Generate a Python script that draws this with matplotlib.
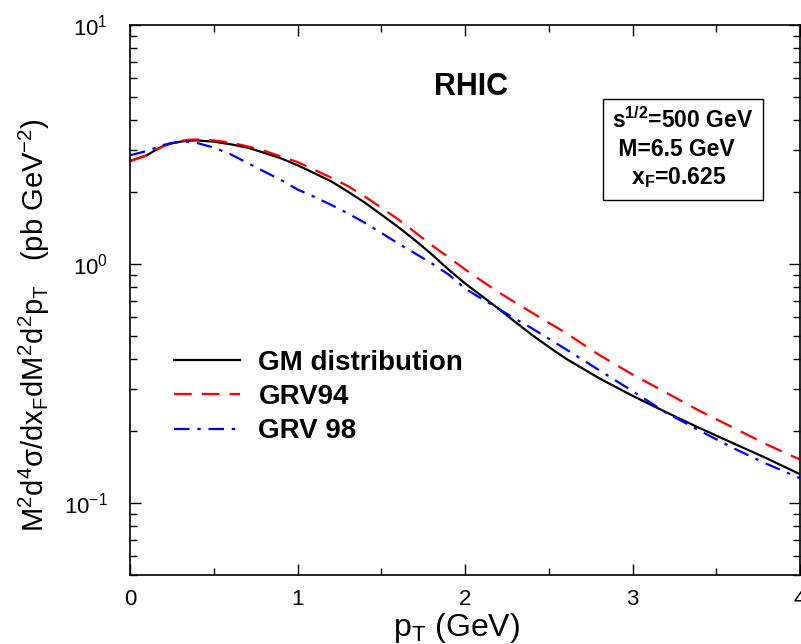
import matplotlib
matplotlib.use("Agg")
import matplotlib.pyplot as plt
import numpy as np
from matplotlib.ticker import LogLocator, MultipleLocator, NullFormatter

plt.rcParams['font.family'] = ['Liberation Sans', 'DejaVu Sans']
plt.rcParams['mathtext.fontset'] = 'custom'
plt.rcParams['mathtext.rm'] = 'Liberation Sans'
plt.rcParams['mathtext.it'] = 'Liberation Sans'
plt.rcParams['mathtext.bf'] = 'Liberation Sans:bold'

# p_T grid (GeV)
pt = [0.0, 0.05, 0.1, 0.15, 0.2, 0.25, 0.3, 0.35, 0.4, 0.5, 0.6, 0.7, 0.8, 0.9,
      1.0, 1.1, 1.2, 1.3, 1.4, 1.5, 1.6, 1.7, 1.8, 1.9,
      2.0, 2.1, 2.2, 2.3, 2.4, 2.5, 2.6, 2.8, 3.0, 3.2, 3.4, 3.6, 3.8, 4.0]

gm = [2.70, 2.77, 2.85, 2.99, 3.12, 3.20, 3.25, 3.28, 3.29, 3.25, 3.17, 3.07, 2.92, 2.77,
      2.59, 2.40, 2.22, 2.01, 1.81, 1.61, 1.43, 1.26, 1.10, 0.95,
      0.83, 0.735, 0.650, 0.572, 0.505, 0.450, 0.403, 0.333, 0.281, 0.240, 0.206, 0.178,
      0.154, 0.132]
grv94 = [2.70, 2.77, 2.85, 2.99, 3.12, 3.21, 3.27, 3.31, 3.32, 3.29, 3.22, 3.11, 2.98, 2.82,
         2.67, 2.48, 2.30, 2.12, 1.92, 1.72, 1.54, 1.36, 1.20, 1.07,
         0.95, 0.85, 0.762, 0.69, 0.626, 0.568, 0.516, 0.417, 0.345, 0.290, 0.243, 0.207,
         0.176, 0.152]
grv98 = [2.85, 2.91, 2.97, 3.06, 3.15, 3.21, 3.24, 3.25, 3.21, 3.07, 2.88, 2.65, 2.44, 2.25,
         2.05, 1.91, 1.77, 1.63, 1.49, 1.35, 1.22, 1.11, 1.007, 0.906,
         0.79, 0.715, 0.650, 0.59, 0.538, 0.487, 0.441, 0.360, 0.294, 0.239, 0.201, 0.170,
         0.146, 0.127]

fig = plt.figure(figsize=(8.01, 6.44), dpi=100)
ax = fig.add_axes([0.1623, 0.1071, 0.8365, 0.8541])

ax.plot(pt, gm, color='black', lw=1.6, label='GM distribution')
ax.plot(pt, grv94, color='red', lw=1.6, dashes=(8, 4.5), label='GRV94')
ax.plot(pt, grv98, color='blue', lw=1.6, dashes=(7, 3.5, 1.5, 3.5), label='GRV 98')

ax.set_yscale('log')
ax.set_xlim(0, 4)
ax.set_ylim(0.05, 10)
ax.xaxis.set_major_locator(MultipleLocator(1))
ax.xaxis.set_minor_locator(MultipleLocator(0.5))
ax.yaxis.set_major_locator(LogLocator(base=10))
ax.yaxis.set_minor_locator(LogLocator(base=10, subs=np.arange(2, 10)))
ax.yaxis.set_minor_formatter(NullFormatter())
ax.tick_params(which='both', direction='in', top=True, right=True, labelsize=16)
ax.tick_params(which='major', length=8, width=1)
ax.tick_params(which='minor', length=5, width=1)
ax.tick_params(axis='x', pad=10)
ax.tick_params(axis='y', pad=16)
for s in ax.spines.values():
    s.set_linewidth(1.2)

ax.set_xlabel(r'p$_\mathrm{T}$ (GeV)', fontsize=23, labelpad=0)
ax.xaxis.set_label_coords(0.487, -0.066)
ax.xaxis.label.set_va('top')
ax.set_ylabel(r'M$^2$d$^4\sigma$/dx$_\mathrm{F}$dM$^2$d$^2$p$_\mathrm{T}$   (pb GeV$^{-2}$)',
              fontsize=21)
ax.yaxis.set_label_coords(-0.116, 0.455)

ax.text(0.509, 0.888, 'RHIC', transform=ax.transAxes, fontsize=22,
        fontweight='bold', ha='center', va='center')

ax.text(0.72, 0.85, r'$\mathbf{s^{1/2}}$' + '=500 GeV\n M=6.5 GeV\n   x' + r'$_\mathbf{F}$' + '=0.625',
        transform=ax.transAxes, fontsize=16.5, fontweight='bold', va='top', ha='left',
        linespacing=1.25,
        bbox=dict(boxstyle='square,pad=0.4', fc='white', ec='black', lw=1))

leg = ax.legend(loc='upper left', bbox_to_anchor=(0.028, 0.455), frameon=False,
                prop={'size': 20, 'weight': 'bold'}, handlelength=2.4,
                handletextpad=0.65, labelspacing=0.3)

fig.savefig('out.png', dpi=100)
